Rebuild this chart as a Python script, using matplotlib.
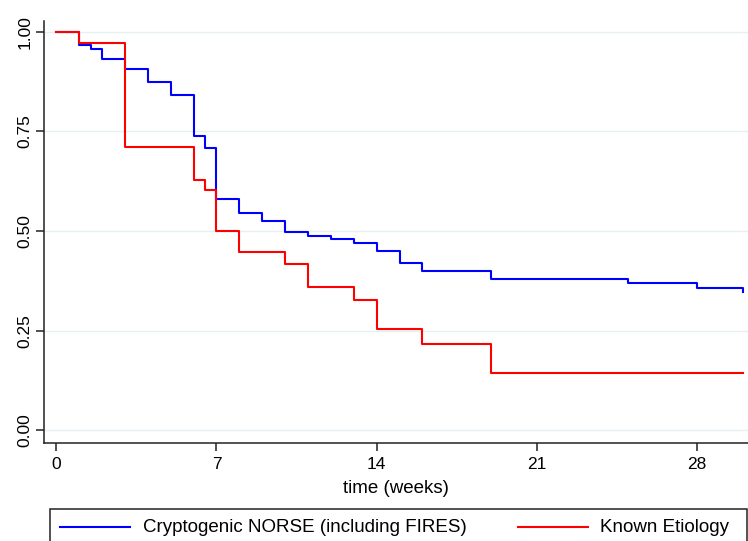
import matplotlib
matplotlib.use("Agg")
import matplotlib.pyplot as plt
from matplotlib.lines import Line2D
from matplotlib.patches import Rectangle

plt.rcParams['font.family'] = ['Liberation Sans', 'DejaVu Sans']

# Kaplan-Meier step data (time in weeks, survival proportion)
crypto_t = [0, 1, 1.5, 2, 3, 4, 5, 6, 6.5, 7, 8, 9, 10, 11, 12, 13, 14, 15, 16, 19, 25, 28, 30]
crypto_s = [1.0, 0.967, 0.957, 0.932, 0.906, 0.874, 0.840, 0.738, 0.708, 0.580, 0.544, 0.525,
            0.498, 0.488, 0.479, 0.470, 0.450, 0.420, 0.400, 0.380, 0.369, 0.358, 0.348]
known_t = [0, 1, 3, 6, 6.5, 7, 8, 10, 11, 13, 14, 16, 19, 30]
known_s = [1.0, 0.972, 0.710, 0.629, 0.604, 0.500, 0.447, 0.418, 0.359, 0.326, 0.253, 0.217, 0.145, 0.145]

xticks = [0, 7, 14, 21, 28]
yticks = [0.00, 0.25, 0.50, 0.75, 1.00]
ytick_labels = ["0.00", "0.25", "0.50", "0.75", "1.00"]
labels = ["Cryptogenic NORSE (including FIRES)", "Known Etiology"]
colors = ["#0000ff", "#ff0000"]

W, H = 748, 541
fig = plt.figure(figsize=(W / 100, H / 100), dpi=100)
left, right, top, bottom = 43.7, 748, 20.7, 442.7
ax = fig.add_axes([left / W, 1 - bottom / H, (right - left) / W, (bottom - top) / H])

ax.set_xlim(-0.551, 30.23)
ax.set_ylim(-0.031, 1.0276)

for y in yticks:
    ax.axhline(y, color="#e6eff2", lw=1.0, zorder=0)

ax.step(crypto_t, crypto_s, where="post", color=colors[0], lw=1.5, zorder=3)
ax.step(known_t, known_s, where="post", color=colors[1], lw=1.5, zorder=3)

for s in ["top", "right"]:
    ax.spines[s].set_visible(False)
for s in ["left", "bottom"]:
    ax.spines[s].set_color("#222222")
    ax.spines[s].set_linewidth(1.1)

ax.set_xticks(xticks)
ax.set_xticklabels([str(x) for x in xticks])
ax.set_yticks(yticks)
ax.set_yticklabels(ytick_labels, rotation=90, va="center")
ax.tick_params(axis="both", direction="out", length=6, width=1.1, color="#222222", labelsize=12.5)
ax.tick_params(axis="x", pad=4)
ax.tick_params(axis="y", pad=2)
ax.set_xlabel("time (weeks)", fontsize=13.5, labelpad=6)

# legend box (partially cut off at bottom as in reference)
box_top = 509
fig.add_artist(Rectangle((50 / W, -0.1), (746.5 - 50) / W, (1 - box_top / H) + 0.1,
                         transform=fig.transFigure, fill=False, edgecolor="#222222", lw=1.1))
ty = 1 - 527 / H
fig.add_artist(Line2D([60 / W, 130 / W], [ty, ty], transform=fig.transFigure, color=colors[0], lw=1.5))
fig.text(143 / W, ty, labels[0], fontsize=13.5, va="center", ha="left")
fig.add_artist(Line2D([518 / W, 588 / W], [ty, ty], transform=fig.transFigure, color=colors[1], lw=1.5))
fig.text(600 / W, ty, labels[1], fontsize=13.5, va="center", ha="left")

fig.savefig("out.png", dpi=100)
